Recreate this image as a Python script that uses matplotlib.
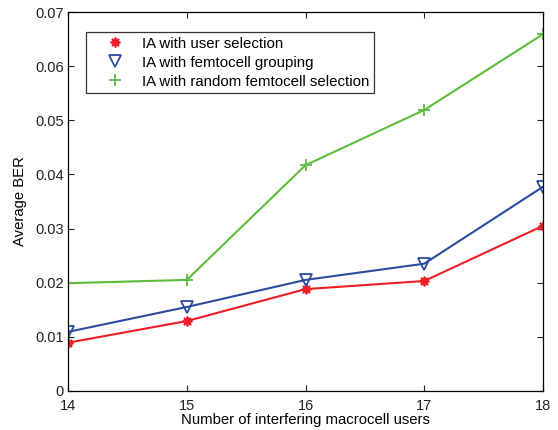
import matplotlib
matplotlib.use("Agg")
import matplotlib.pyplot as plt

# ── Data ────────────────────────────────────────────────────────────────────
users = [14, 15, 16, 17, 18]
ber_user_sel = [0.0089, 0.0129, 0.0188, 0.0203, 0.0305]
ber_grouping = [0.0109, 0.0155, 0.0205, 0.0235, 0.0377]
ber_random = [0.0199, 0.0205, 0.0417, 0.0519, 0.0659]
y_ticks = [0, 0.01, 0.02, 0.03, 0.04, 0.05, 0.06, 0.07]
y_ticklabels = ["0", "0.01", "0.02", "0.03", "0.04", "0.05", "0.06", "0.07"]

plt.rcParams["font.family"] = ["Liberation Sans", "DejaVu Sans"]
plt.rcParams["font.size"] = 10.5

fig = plt.figure(figsize=(5.58, 4.30), dpi=100)
ax = fig.add_axes([0.122, 0.091, 0.851, 0.881])

ax.plot(users, ber_user_sel, color="#ee1c24", lw=1.5, marker=(8, 2, 0),
        ms=7, mew=1.3, label="IA with user selection")
ax.plot(users, ber_grouping, color="#2b4ba0", lw=1.5, marker="v",
        ms=8, mfc="none", mew=1.3, label="IA with femtocell grouping")
ax.plot(users, ber_random, color="#5cbc3c", lw=1.5, marker="+",
        ms=8, mew=1.3, label="IA with random femtocell selection")

ax.set_xlim(14, 18)
ax.set_ylim(0, 0.07)
ax.set_xticks(users)
ax.set_yticks(y_ticks)
ax.set_yticklabels(y_ticklabels)
ax.tick_params(direction="in", top=True, right=True, length=4, width=0.8,
               labelsize=10.5, colors="#222222", pad=3)
ax.tick_params(axis="x", pad=5.5)
for s in ax.spines.values():
    s.set_linewidth(0.9)

ax.set_xlabel("Number of interfering macrocell users", fontsize=10.7, labelpad=0)
ax.set_ylabel("Average BER", fontsize=10.7, labelpad=6)

leg = ax.legend(loc="upper left", bbox_to_anchor=(0.038, 0.947), fontsize=10.8,
                frameon=True, fancybox=False, edgecolor="black",
                borderaxespad=0, handlelength=3.3, borderpad=0.3,
                labelspacing=0.33, handletextpad=0.15)
leg.get_frame().set_linewidth(0.9)
for h in leg.get_lines():
    h.set_linestyle("none")

fig.savefig("out.png", dpi=100, facecolor="white")
